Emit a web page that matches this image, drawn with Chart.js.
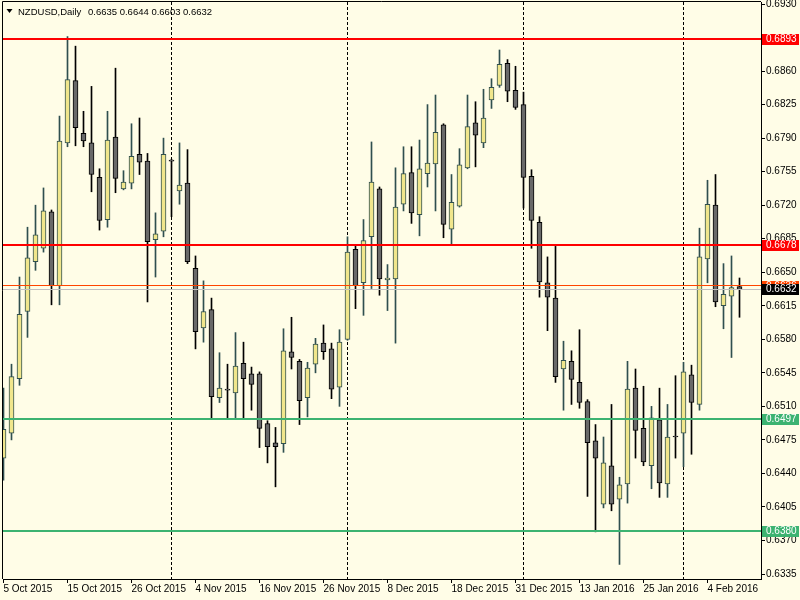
<!DOCTYPE html>
<html>
<head>
<meta charset="utf-8">
<script src="https://cdn.jsdelivr.net/npm/chart.js@4.4.0/dist/chart.umd.min.js"></script>
<style>
  html, body { margin: 0; padding: 0; background: #fffde7; }
  #wrap { width: 800px; height: 600px; }
</style>
</head>
<body>
<div id="wrap"><canvas id="nzdChart" width="800" height="600"></canvas></div>
<script>
// --- Data (NZDUSD daily) ---
const symbolTitle = 'NZDUSD,Daily';

const opens = [
  0.6456, 0.6482, 0.6539, 0.6609, 0.6661, 0.6675, 0.6713, 0.6636, 0.6785, 0.6850,
  0.6795, 0.6785, 0.6749, 0.6705, 0.6791, 0.6737, 0.6743, 0.6773, 0.6766, 0.6684,
  0.6693, 0.6766, 0.6735, 0.6743, 0.6654, 0.6592, 0.6611, 0.6519, 0.6527, 0.6524,
  0.6555, 0.6544, 0.6544, 0.6492, 0.6472, 0.6471, 0.6567, 0.6557, 0.6519, 0.6554,
  0.6576, 0.6570, 0.6530, 0.6580, 0.6674, 0.6639, 0.6687, 0.6737, 0.6642, 0.6643,
  0.6721, 0.6754, 0.6710, 0.6753, 0.6763, 0.6804, 0.6695, 0.6719, 0.6759, 0.6806,
  0.6785, 0.6830, 0.6845, 0.6868, 0.6840, 0.6825, 0.6750, 0.6702, 0.6639, 0.6623,
  0.6549, 0.6557, 0.6535, 0.6515, 0.6474, 0.6408, 0.6448, 0.6413, 0.6429, 0.6529,
  0.6487, 0.6448, 0.6496, 0.6429, 0.6478, 0.6482, 0.6543, 0.6512, 0.6664, 0.6720,
  0.6615, 0.6625, 0.6635
];
const highs = [
  0.6529, 0.6554, 0.6645, 0.6697, 0.6720, 0.6738, 0.6715, 0.6813, 0.6896, 0.6886,
  0.6818, 0.6844, 0.6758, 0.6818, 0.6863, 0.6756, 0.6805, 0.6811, 0.6774, 0.6712,
  0.6790, 0.6768, 0.6785, 0.6778, 0.6667, 0.6641, 0.6623, 0.6566, 0.6554, 0.6587,
  0.6577, 0.6551, 0.6546, 0.6495, 0.6488, 0.6591, 0.6603, 0.6559, 0.6556, 0.6581,
  0.6595, 0.6576, 0.6590, 0.6687, 0.6678, 0.6705, 0.6786, 0.6739, 0.6658, 0.6759,
  0.6781, 0.6781, 0.6788, 0.6825, 0.6835, 0.6805, 0.6752, 0.6779, 0.6835, 0.6828,
  0.6841, 0.6852, 0.6882, 0.6872, 0.6865, 0.6838, 0.6757, 0.6708, 0.6666, 0.6677,
  0.6578, 0.6568, 0.6590, 0.6517, 0.6491, 0.6478, 0.6512, 0.6436, 0.6557, 0.6549,
  0.6531, 0.6510, 0.6529, 0.6512, 0.6542, 0.6556, 0.6553, 0.6696, 0.6746, 0.6752,
  0.6659, 0.6667, 0.6644
];
const lows = [
  0.6433, 0.6475, 0.6532, 0.6582, 0.6652, 0.6671, 0.6616, 0.6616, 0.6781, 0.6782,
  0.6781, 0.6734, 0.6694, 0.6697, 0.6733, 0.6736, 0.6737, 0.6752, 0.6619, 0.6645,
  0.6687, 0.6708, 0.6721, 0.6659, 0.6570, 0.6577, 0.6498, 0.6514, 0.6498, 0.6498,
  0.6498, 0.6506, 0.6467, 0.6451, 0.6426, 0.6462, 0.6549, 0.6491, 0.6499, 0.6545,
  0.6559, 0.6518, 0.6510, 0.6579, 0.6612, 0.6605, 0.6633, 0.6626, 0.6610, 0.6576,
  0.6714, 0.6701, 0.6688, 0.6739, 0.6714, 0.6686, 0.6679, 0.6718, 0.6758, 0.6760,
  0.6780, 0.6821, 0.6843, 0.6828, 0.6820, 0.6717, 0.6675, 0.6624, 0.6589, 0.6535,
  0.6506, 0.6512, 0.6508, 0.6416, 0.6379, 0.6404, 0.6401, 0.6345, 0.6409, 0.6456,
  0.6448, 0.6424, 0.6415, 0.6415, 0.6456, 0.6447, 0.6460, 0.6506, 0.6639, 0.6614,
  0.6591, 0.6561, 0.6603
];
const closes = [
  0.6486, 0.6541, 0.6606, 0.6665, 0.6689, 0.6714, 0.6636, 0.6787, 0.6851, 0.6801,
  0.6787, 0.6752, 0.6704, 0.6788, 0.6748, 0.6744, 0.6771, 0.6765, 0.6682, 0.6690,
  0.6773, 0.6766, 0.6741, 0.6661, 0.6588, 0.6609, 0.6520, 0.6529, 0.6527, 0.6552,
  0.6539, 0.6533, 0.6487, 0.6468, 0.6468, 0.6568, 0.6561, 0.6516, 0.6550, 0.6575,
  0.6567, 0.6528, 0.6577, 0.6671, 0.6636, 0.6683, 0.6744, 0.6643, 0.6644, 0.6718,
  0.6753, 0.6712, 0.6758, 0.6764, 0.6796, 0.6700, 0.6723, 0.6762, 0.6802, 0.6793,
  0.6811, 0.6843, 0.6867, 0.6839, 0.6822, 0.6749, 0.6704, 0.6640, 0.6624, 0.6541,
  0.6558, 0.6538, 0.6514, 0.6472, 0.6456, 0.6451, 0.6408, 0.6428, 0.6528, 0.6485,
  0.6452, 0.6498, 0.6430, 0.6478, 0.6478, 0.6546, 0.6514, 0.6666, 0.6721, 0.6619,
  0.6627, 0.6634, 0.6632
];

// bottom axis: a date label every 8 bars
const dateLabels = ['5 Oct 2015', '15 Oct 2015', '26 Oct 2015', '4 Nov 2015', '16 Nov 2015', '26 Nov 2015',
                    '8 Dec 2015', '18 Dec 2015', '31 Dec 2015', '13 Jan 2016', '25 Jan 2016', '4 Feb 2016'];
const dateTickIndex = [0, 8, 16, 24, 32, 40, 48, 56, 64, 72, 80, 88];

// right axis (0.6895 is hidden behind the 0.6893 tag)
const priceTicks = [0.6930, 0.6860, 0.6825, 0.6790, 0.6755, 0.6720, 0.6685, 0.6650, 0.6615,
                    0.6580, 0.6545, 0.6510, 0.6475, 0.6440, 0.6405, 0.6370, 0.6335];

const resistanceLevels = [0.6893, 0.6678];
const supportLevels = [0.6497, 0.6380];
const askPrice = 0.6636;
const bidPrice = 0.6632;
const monthSeparators = [21, 43, 65, 85];   // bar index of the dotted period separators

// --- Colours ---
const BG = '#fffde7';
const BULL_FILL = '#f0e68c';
const BULL_LINE = '#2f4f4f';
const BEAR_FILL = '#696969';
const BEAR_LINE = '#000000';
const AXIS_FONT = { family: "'Liberation Sans', Arial, sans-serif", size: 10 };

const isBull = i => closes[i] > opens[i];
const idx = opens.map((_, i) => i);

// --- Overlay: background, separators, levels, price tags, header ---
const mt4Overlay = {
    id: 'mt4Overlay',
    beforeDraw(chart) {
        const ctx = chart.ctx;
        ctx.save();
        ctx.fillStyle = BG;
        ctx.fillRect(0, 0, chart.width, chart.height);
        ctx.restore();
    },
    beforeDatasetsDraw(chart) {
        const { ctx, chartArea: a, scales: { x } } = chart;
        ctx.save();
        ctx.strokeStyle = '#000';
        ctx.lineWidth = 1;
        ctx.setLineDash([3, 2]);
        monthSeparators.forEach(i => {
            const px = x.getPixelForValue(i);
            ctx.beginPath();
            ctx.moveTo(px, a.top);
            ctx.lineTo(px, a.bottom);
            ctx.stroke();
        });
        ctx.restore();
    },
    afterDatasetsDraw(chart) {
        const { ctx, chartArea: a, scales: { y } } = chart;
        const hline = (v, color, w) => {
            const py = w === 2 ? Math.round(y.getPixelForValue(v)) : Math.floor(y.getPixelForValue(v)) + 0.5;
            ctx.strokeStyle = color;
            ctx.lineWidth = w;
            ctx.beginPath();
            ctx.moveTo(a.left, py);
            ctx.lineTo(a.right, py);
            ctx.stroke();
        };
        ctx.save();
        hline(askPrice, '#ff4500', 1);
        hline(bidPrice, '#c0c0c0', 1);
        resistanceLevels.forEach(v => hline(v, '#ff0000', 2));
        supportLevels.forEach(v => hline(v, '#3cb371', 2));
        ctx.restore();
    },
    afterDraw(chart) {
        const { ctx, chartArea: a, scales: { y } } = chart;
        ctx.save();
        // frame (top + left; right and bottom come from the axes)
        ctx.strokeStyle = '#000';
        ctx.lineWidth = 1;
        ctx.beginPath();
        ctx.moveTo(a.left - 0.5, a.bottom);
        ctx.lineTo(a.left - 0.5, a.top - 0.5);
        ctx.lineTo(a.right, a.top - 0.5);
        ctx.stroke();

        // price tags on the right axis
        const tag = (v, color) => {
            const py = Math.round(y.getPixelForValue(v));
            ctx.fillStyle = color;
            ctx.fillRect(a.right + 1, py - 5, 37, 11);
            ctx.fillStyle = '#fff';
            ctx.font = `${AXIS_FONT.size}px ${AXIS_FONT.family}`;
            ctx.textAlign = 'left';
            ctx.textBaseline = 'middle';
            ctx.fillText(v.toFixed(4), a.right + 5, py + 0.5);
        };
        resistanceLevels.forEach(v => tag(v, '#ff0000'));
        supportLevels.forEach(v => tag(v, '#3cb371'));
        tag(askPrice, '#ff4500');
        tag(bidPrice, '#000000');

        // header
        const last = opens.length - 1;
        ctx.fillStyle = '#000';
        ctx.beginPath();
        ctx.moveTo(6.5, 9);
        ctx.lineTo(12.5, 9);
        ctx.lineTo(9.5, 13);
        ctx.closePath();
        ctx.fill();
        ctx.font = `9.5px ${AXIS_FONT.family}`;
        ctx.textAlign = 'left';
        ctx.textBaseline = 'alphabetic';
        ctx.fillText(symbolTitle, 18, 14.5);
        const ohlc = [opens[last], highs[last], lows[last], closes[last]].map(v => v.toFixed(4)).join(' ');
        ctx.fillText(ohlc, 88, 14.5);
        ctx.restore();
    }
};

const zeroPadding = s => { s.paddingTop = 0; s.paddingBottom = 0; s.paddingLeft = 0; s.paddingRight = 0; };

new Chart(document.getElementById('nzdChart'), {
    type: 'bar',
    data: {
        datasets: [
            {
                label: 'Wicks',
                data: idx.map(i => ({ x: i, y: [lows[i], highs[i]] })),
                backgroundColor: idx.map(i => isBull(i) ? BULL_LINE : BEAR_LINE),
                borderWidth: 0,
                barThickness: 1,
                grouped: false,
                order: 2,
                clip: 0
            },
            {
                label: 'Bodies',
                data: idx.map(i => ({ x: i, y: [opens[i], closes[i]] })),
                backgroundColor: idx.map(i => isBull(i) ? BULL_FILL : BEAR_FILL),
                borderColor: idx.map(i => isBull(i) ? BULL_LINE : BEAR_LINE),
                borderWidth: 1,
                borderSkipped: false,
                minBarLength: 1,
                barThickness: 5,
                grouped: false,
                order: 1,
                clip: 0
            }
        ]
    },
    options: {
        responsive: false,
        animation: false,
        events: [],
        layout: { padding: { left: 3, top: 2, right: 0, bottom: 0 } },
        plugins: { legend: { display: false }, tooltip: { enabled: false } },
        scales: {
            x: {
                type: 'linear',
                min: -0.0625,
                max: 94.6875,
                bounds: 'data',
                offset: false,
                afterBuildTicks: s => { s.ticks = dateTickIndex.map(v => ({ value: v })); },
                afterFit: s => { s.height = 21; zeroPadding(s); },
                ticks: {
                    callback: (v, i) => dateLabels[i],
                    align: 'start',
                    maxRotation: 0,
                    autoSkip: false,
                    color: '#000',
                    font: AXIS_FONT,
                    padding: 0
                },
                grid: { drawOnChartArea: false, drawTicks: true, tickLength: 4, color: '#000', offset: false },
                border: { display: true, color: '#000' }
            },
            y: {
                type: 'linear',
                position: 'right',
                min: 0.632979,
                max: 0.693209,
                bounds: 'data',
                afterBuildTicks: s => { s.ticks = priceTicks.map(v => ({ value: v })); },
                afterFit: s => { s.width = 39; zeroPadding(s); },
                ticks: {
                    callback: v => v.toFixed(4),
                    autoSkip: false,
                    color: '#000',
                    font: AXIS_FONT,
                    padding: 1
                },
                grid: { drawOnChartArea: false, drawTicks: true, tickLength: 4, color: '#000' },
                border: { display: true, color: '#000' }
            }
        }
    },
    plugins: [mt4Overlay]
});
</script>
</body>
</html>
